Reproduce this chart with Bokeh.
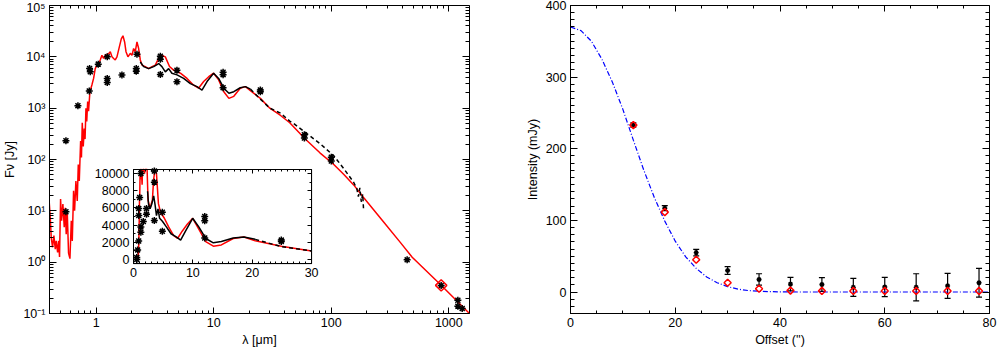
import numpy as np
from bokeh.plotting import figure
from bokeh.models import (Range1d, LinearScale, LogAxis, LinearAxis, FixedTicker,
                          ColumnDataSource, Whisker, TeeHead)
from bokeh.layouts import row
from bokeh.embed import file_html
from bokeh.resources import INLINE

FONT = "Liberation Sans"
FS = "12.5px"

# ---------------- left panel: SED ----------------
model_wl = [0.398, 0.406, 0.414, 0.425, 0.436, 0.448, 0.456, 0.469, 0.478, 0.487,
            0.497, 0.507, 0.520, 0.534, 0.545, 0.555, 0.566, 0.581, 0.597, 0.613,
            0.625, 0.641, 0.654, 0.671, 0.689, 0.703, 0.717, 0.736, 0.748, 0.760,
            0.775, 0.790, 0.803, 0.817, 0.830, 0.845, 0.860, 0.883, 0.918, 0.949,
            0.980, 1.013, 1.047, 1.081, 1.117, 1.155, 1.193, 1.233, 1.274, 1.316,
            1.36, 1.405, 1.451, 1.5, 1.57, 1.633, 1.687, 1.743, 1.791, 1.86,
            1.948, 2.013, 2.08, 2.148, 2.22, 2.294, 2.37, 2.449, 2.615, 2.79,
            2.98, 3.18, 3.39, 3.62, 3.87, 4.2, 4.55, 5.2, 5.92, 6.74,
            7.42, 8.2, 9.06, 9.97, 11.0, 12.17, 13.45, 14.8, 16.8, 18.6,
            20.5, 24.9, 30.0, 37.0, 44.3, 60.0, 80.0, 105.0, 128.0, 155.0,
            189.0, 280.0, 388.0, 488.0, 861.0, 1500.0]
model_flux = [14.5, 7.4, 3.0, 1.95, 3.3, 1.8, 2.6, 1.55, 2.6, 1.26,
              17.0, 6.4, 13.5, 4.8, 11.5, 3.5, 10.0, 1.5, 1.17, 6.4,
              2.6, 24.5, 10.0, 38.0, 15.6, 80.0, 38.0, 230.0, 110.0, 520.0,
              180.0, 400.0, 250.0, 1000.0, 550.0, 1350.0, 870.0, 2090.0, 2820.0, 3800.0,
              5900.0, 6900.0, 7400.0, 8700.0, 10700.0, 9300.0, 10700.0, 11000.0, 11500.0, 12600.0,
              10000.0, 9300.0, 8700.0, 10000.0, 15500.0, 22400.0, 25700.0, 19500.0, 12600.0, 10000.0,
              11700.0, 10700.0, 14500.0, 12600.0, 19500.0, 14500.0, 8700.0, 6900.0, 6450.0, 5900.0,
              6450.0, 6900.0, 9300.0, 10700.0, 10000.0, 6500.0, 5500.0, 4800.0, 3800.0, 2800.0,
              2450.0, 3300.0, 4100.0, 4800.0, 3550.0, 2090.0, 1550.0, 1700.0, 2450.0, 2630.0,
              2190.0, 1550.0, 1000.0, 720.0, 520.0, 250.0, 135.0, 80.0, 51.0, 32.0,
              18.0, 6.0, 2.4, 1.25, 0.355, 0.1]

sws_wl = [2.37, 2.53, 2.79, 3.08, 3.4, 3.62, 3.87, 4.13, 4.4, 4.87, 5.54, 6.32,
          7.2, 7.94, 8.76, 9.97, 11.0, 12.17, 13.45, 14.8, 16.8, 18.6, 20.5]
sws_flux = [7950, 6450, 5900, 6450, 7400, 6450, 5100, 5900, 4800, 4450, 3800, 3000,
            2630, 2250, 3300, 4800, 3800, 2450, 1950, 2090, 2500, 2630, 2350]

lws_wl = [20.5, 24.9, 30.0, 37.0, 44.3, 48.0, 62.0, 81.0, 105.0, 128.0, 155.0,
          165.0, 170.0, 175.0, 180.0, 185.0, 188.0]
lws_flux = [2350, 1500, 1000, 800, 560, 500, 320, 200, 118, 66, 36,
            27, 19, 28, 15, 21, 11]

phot_wl = [0.552, 0.552, 0.698, 0.872, 0.877, 0.889, 1.04, 1.24, 1.24, 1.24,
           1.654, 2.19, 2.19, 2.22, 3.51, 3.51, 3.51, 4.86, 4.86, 12.0,
           12.0, 12.0, 24.9, 24.9, 59.0, 59.0, 100.0, 100.0, 442.0, 861.0,
           1194.0, 1194.0, 1300.0]
phot_flux = [233, 9.6, 1120, 2160, 5940, 5130, 7210, 10000, 3800, 3170,
             4420, 5940, 5260, 11200, 10300, 9000, 4550, 5500, 3280, 5000,
             4500, 2510, 2260, 2100, 303, 263, 111, 93, 1.11, 0.353,
             0.181, 0.139, 0.125]

scuba_wl = [861.0]
scuba_flux = [0.353]

x_ticks = [1, 10, 100, 1000]
x_tick_labels = ["1", "10", "100", "1000"]
y_ticks = [0.1, 1, 10, 100, 1000, 10000, 100000]
y_tick_labels = ["10\u207b\u00b9", "10\u2070", "10\u00b9", "10\u00b2", "10\u00b3", "10\u2074", "10\u2075"]
inset_x_ticks = [0, 10, 20, 30]
inset_y_ticks = [0, 2000, 4000, 6000, 8000, 10000]

# ---------------- right panel: profile ----------------
offset = [12, 18, 24, 30, 36, 42, 48, 54, 60, 66, 72, 78]
obs_int = [233, 117, 55, 30, 17.5, 11, 10.5, 6.5, 7, 6.5, 8.6, 13]
obs_err = [3, 3.5, 4.5, 5.5, 8, 9.5, 9.5, 12.5, 13.5, 19, 17.5, 20]
mod_int = [233, 111.5, 45, 13, 4.6, 2, 1.5, 1.5, 1.5, 1.5, 1.5, 1.5]
beam_x = [0, 2, 4, 6, 8, 10, 12, 14, 16, 18, 20, 22, 24, 26, 28, 30, 32, 34, 36,
          38, 40, 44, 50, 60, 70, 80]
beam_int = [370, 365, 350, 325, 293, 255, 212, 170, 132, 99, 71, 49, 33, 21, 13,
            7.5, 4, 2, 1, 0.5, 0.2, 0, 0, 0, 0, 0]


def style(ax, major, minor, labels=True, overrides=None):
    ax.major_tick_in = major
    ax.major_tick_out = 0
    ax.minor_tick_in = minor
    ax.minor_tick_out = 0
    ax.axis_line_color = "black"
    ax.axis_line_width = 1
    ax.major_tick_line_color = "black"
    ax.minor_tick_line_color = "black"
    ax.major_label_text_font = FONT
    ax.major_label_text_font_size = FS
    ax.major_label_text_color = "black" if labels else None
    ax.major_label_standoff = 4
    ax.axis_label_text_font = FONT
    ax.axis_label_text_font_size = FS
    ax.axis_label_text_font_style = "normal"
    ax.axis_label_text_color = "black"
    ax.axis_label_standoff = 3
    if overrides:
        ax.major_label_overrides = overrides


def minor_log(lo, hi):
    return [m * 10.0 ** e for e in range(-2, 6) for m in range(2, 10)
            if lo <= m * 10.0 ** e <= hi]


FW1, FW2, FH = 420, 419, 308
TOP = 5

# ======== left figure ========
XLO, XHI = 0.4, 1500
YLO, YHI = 0.1, 1e5
p1 = figure(x_axis_type="log", y_axis_type="log",
            x_range=Range1d(XLO, XHI), y_range=Range1d(YLO, YHI),
            frame_width=FW1, frame_height=FH,
            min_border_left=49, min_border_right=40, min_border_top=TOP, min_border_bottom=0,
            output_backend="svg", toolbar_location=None,
            x_axis_label="\u03bb [\u03bcm]", y_axis_label="F\u03bd [Jy]")
p1.grid.visible = False
p1.outline_line_color = "black"
p1.background_fill_color = "white"

xt = FixedTicker(ticks=x_ticks, minor_ticks=minor_log(XLO, XHI))
yt = FixedTicker(ticks=y_ticks, minor_ticks=minor_log(YLO, YHI))
p1.xaxis.ticker = xt
p1.yaxis.ticker = yt
style(p1.xaxis[0], 6, 3, overrides=dict(zip(x_ticks, x_tick_labels)))
style(p1.yaxis[0], 7, 4, overrides=dict(zip(y_ticks, y_tick_labels)))

top1 = LogAxis(ticker=FixedTicker(ticks=x_ticks, minor_ticks=minor_log(XLO, XHI)), fixed_location=YHI)
style(top1, 6, 3, labels=False)
p1.add_layout(top1, "above")
right1 = LogAxis(ticker=FixedTicker(ticks=y_ticks, minor_ticks=minor_log(YLO, YHI)), fixed_location=XHI)
style(right1, 7, 4, labels=False)
p1.add_layout(right1, "right")

p1.line(model_wl, model_flux, line_color="red", line_width=1.5)
p1.line(sws_wl, sws_flux, line_color="black", line_width=1.5)
p1.line(lws_wl, lws_flux, line_color="black", line_width=1.5, line_dash="4 3")
p1.scatter(phot_wl, phot_flux, marker="asterisk", size=7, line_color="black", line_width=1.5)
p1.scatter(scuba_wl, scuba_flux, marker="square", angle=np.pi / 4, size=8,
           fill_color=None, line_color="red", line_width=1.5)

# ---- inset (own linear coordinates inside the main frame) ----
IX0, IX1 = 0, 30
IY0, IY1 = -470, 10470
fx0, fx1 = 0.20, 0.624      # inset box, fraction of frame width
fy0, fy1 = 0.162, 0.4675    # inset box, fraction of frame height (from bottom)
sx = (IX1 - IX0) / (fx1 - fx0)
sy = (IY1 - IY0) / (fy1 - fy0)
p1.extra_x_ranges = {"ix": Range1d(IX0 - fx0 * sx, IX1 + (1 - fx1) * sx)}
p1.extra_y_ranges = {"iy": Range1d(IY0 - fy0 * sy, IY1 + (1 - fy1) * sy)}
p1.extra_x_scales = {"ix": LinearScale()}
p1.extra_y_scales = {"iy": LinearScale()}
IN = dict(x_range_name="ix", y_range_name="iy")

p1.quad(left=[IX0], right=[IX1], bottom=[IY0], top=[IY1], fill_color="white",
        line_color="black", line_width=1, **IN)

mwl = np.array(model_wl); mfl = np.array(model_flux)
m = mwl <= IX1
p1.line(mwl[m], np.minimum(mfl[m], IY1), line_color="red", line_width=1.5, **IN)
swl = np.array(sws_wl); sfl = np.array(sws_flux)
p1.line(swl, np.minimum(sfl, IY1), line_color="black", line_width=1.5, **IN)
lwl = np.array(lws_wl); lfl = np.array(lws_flux)
m = lwl <= IX1
p1.line(lwl[m], lfl[m], line_color="black", line_width=1.5, line_dash="4 3", **IN)
pwl = np.array(phot_wl); pfl = np.array(phot_flux)
m = (pwl <= IX1) & (pfl <= IY1)
p1.scatter(pwl[m], pfl[m], marker="asterisk", size=7, line_color="black", line_width=1.5, **IN)

ixt = FixedTicker(ticks=inset_x_ticks, minor_ticks=list(range(IX0, IX1 + 1)))
iyt = FixedTicker(ticks=inset_y_ticks, minor_ticks=list(range(0, 10001, 1000)))
ib = LinearAxis(ticker=ixt, fixed_location=IY0, bounds=(IX0, IX1), **IN)
style(ib, 4, 2)
p1.add_layout(ib, "below")
il = LinearAxis(ticker=iyt, fixed_location=IX0, bounds=(IY0, IY1), **IN)
style(il, 4, 2)
p1.add_layout(il, "left")
it = LinearAxis(ticker=FixedTicker(ticks=inset_x_ticks, minor_ticks=list(range(IX0, IX1 + 1))),
                fixed_location=IY1, bounds=(IX0, IX1), **IN)
style(it, 4, 2, labels=False)
p1.add_layout(it, "above")
ir = LinearAxis(ticker=FixedTicker(ticks=inset_y_ticks, minor_ticks=list(range(0, 10001, 1000))),
                fixed_location=IX1, bounds=(IY0, IY1), **IN)
style(ir, 4, 2, labels=False)
p1.add_layout(ir, "right")

# ======== right figure ========
p2 = figure(x_range=Range1d(0, 80), y_range=Range1d(-30, 400),
            frame_width=FW2, frame_height=FH,
            min_border_left=61, min_border_right=8, min_border_top=TOP, min_border_bottom=0,
            output_backend="svg", toolbar_location=None,
            x_axis_label="Offset ('')", y_axis_label="Intensity (mJy)")
p2.grid.visible = False
p2.outline_line_color = "black"
x2t = FixedTicker(ticks=[0, 20, 40, 60, 80], minor_ticks=list(range(0, 81, 5)))
y2t = FixedTicker(ticks=[0, 100, 200, 300, 400], minor_ticks=list(range(-30, 401, 10)))
p2.xaxis.ticker = x2t
p2.yaxis.ticker = y2t
style(p2.xaxis[0], 6, 3)
style(p2.yaxis[0], 7, 4)
top2 = LinearAxis(ticker=FixedTicker(ticks=[0, 20, 40, 60, 80], minor_ticks=list(range(0, 81, 5))),
                  fixed_location=400)
style(top2, 6, 3, labels=False)
p2.add_layout(top2, "above")
right2 = LinearAxis(ticker=FixedTicker(ticks=[0, 100, 200, 300, 400], minor_ticks=list(range(-30, 401, 10))),
                    fixed_location=80)
style(right2, 7, 4, labels=False)
p2.add_layout(right2, "right")

p2.line(beam_x, beam_int, line_color="#0000ff", line_width=1.2, line_dash="5 2 1 2")

oi = np.array(obs_int); oe = np.array(obs_err)
src = ColumnDataSource(dict(x=offset, y=obs_int, upper=oi + oe, lower=oi - oe))
wh = Whisker(base="x", upper="upper", lower="lower", source=src,
             line_color="black", line_width=1.2,
             upper_head=TeeHead(size=6, line_color="black", line_width=1.2),
             lower_head=TeeHead(size=6, line_color="black", line_width=1.2))
p2.add_layout(wh)
p2.scatter("x", "y", source=src, marker="asterisk", size=5, line_color="black", line_width=1.4)
p2.scatter(offset, mod_int, marker="square", angle=np.pi / 4, size=5,
           fill_color=None, line_color="red", line_width=1.5)

layout = row(p1, p2)
open("out.html", "w").write(file_html(layout, INLINE))
